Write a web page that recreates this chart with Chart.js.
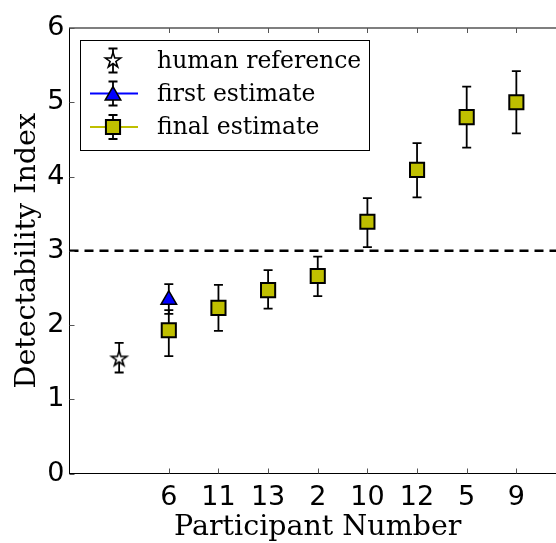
<!DOCTYPE html>
<html>
<head>
<meta charset="utf-8">
<script src="https://cdn.jsdelivr.net/npm/chart.js@4.4.0/dist/chart.umd.min.js"></script>
<style>
html,body{margin:0;padding:0;background:#fff;overflow:hidden;}
#wrap{width:566px;height:543px;}
</style>
</head>
<body>
<div id="wrap"><canvas id="chart" width="566" height="543"></canvas></div>
<script>
'use strict';
// participants shown on the x axis (positions 2..9), human reference sits at 1
const participants=['6','11','13','2','10','12','5','9'];
const finalEst=[1.93,2.23,2.47,2.66,3.39,4.09,4.80,5.00];
const finalLow=[1.58,1.92,2.22,2.39,3.05,3.72,4.39,4.58];
const finalHigh=[2.20,2.54,2.74,2.92,3.71,4.45,5.21,5.42];
const firstEst=[2.34];
const firstLow=[2.15];
const firstHigh=[2.55];
const humanRef=[1.55];
const humanLow=[1.36];
const humanHigh=[1.76];
const threshold=3;
const yTicks=[0,1,2,3,4,5,6];
const legendLabels=['human reference','first estimate','final estimate'];

const finalX=participants.map((p,i)=>i+2);
const firstX=[2];
const humanX=[1];

const OLIVE='#bfbf00';
const BLUE='#0000ff';

// five-pointed star marker (matplotlib '*')
function makeStar(){
  const c=document.createElement('canvas');
  c.width=22;c.height=22;
  const g=c.getContext('2d');
  const cx=11,cy=11.5,R=8,r=R*0.382;
  g.beginPath();
  for(let k=0;k<10;k++){
    const a=-Math.PI/2+k*Math.PI/5;
    const rr=k%2?r:R;
    const px=cx+Math.cos(a)*rr,py=cy+Math.sin(a)*rr;
    k?g.lineTo(px,py):g.moveTo(px,py);
  }
  g.closePath();
  g.fillStyle='#fff';g.fill();
  g.lineWidth=1.6;g.strokeStyle='#000';g.stroke();
  return c;
}
const starImg=makeStar();

const errGroups=[
  {xs:humanX,low:humanLow,high:humanHigh},
  {xs:firstX,low:firstLow,high:firstHigh},
  {xs:finalX,low:finalLow,high:finalHigh}
];

const errorBars={
  id:'errorBars',
  beforeDatasetsDraw(chart){
    const {ctx,scales:{x,y}}=chart;
    ctx.save();
    ctx.strokeStyle='#000';
    ctx.lineWidth=1.8;
    errGroups.forEach(g=>g.xs.forEach((xv,i)=>{
      const px=x.getPixelForValue(xv);
      const lo=y.getPixelForValue(g.low[i]);
      const hi=y.getPixelForValue(g.high[i]);
      ctx.beginPath();
      ctx.moveTo(px,lo);ctx.lineTo(px,hi);
      ctx.moveTo(px-4.5,lo);ctx.lineTo(px+4.5,lo);
      ctx.moveTo(px-4.5,hi);ctx.lineTo(px+4.5,hi);
      ctx.stroke();
    }));
    ctx.restore();
  }
};

// axes frame with inward ticks, matplotlib classic look
const frame={
  id:'frame',
  afterDatasetsDraw(chart){
    const {ctx,chartArea:a,scales:{x,y}}=chart;
    ctx.save();
    ctx.strokeStyle='#000';
    ctx.lineWidth=1;
    ctx.strokeRect(a.left,a.top,a.right-a.left,a.bottom-a.top);
    ctx.strokeStyle='#555';
    ctx.beginPath();
    x.ticks.forEach(t=>{
      const px=Math.round(x.getPixelForValue(t.value))+0.5;
      ctx.moveTo(px,a.bottom);ctx.lineTo(px,a.bottom-5);
      ctx.moveTo(px,a.top);ctx.lineTo(px,a.top+5);
    });
    y.ticks.forEach(t=>{
      const py=Math.round(y.getPixelForValue(t.value))+0.5;
      ctx.moveTo(a.left,py);ctx.lineTo(a.left+5,py);
      ctx.moveTo(a.right,py);ctx.lineTo(a.right-5,py);
    });
    ctx.stroke();
    ctx.restore();
  }
};

const legendBox={
  id:'legendBox',
  afterDraw(chart){
    const ctx=chart.ctx;
    const bx=80.5,by=40.5,bw=289,bh=110;
    const mx=113,rows=[60.5,93.5,127];
    ctx.save();
    ctx.fillStyle='#fff';
    ctx.fillRect(bx,by,bw,bh);
    ctx.strokeStyle='#000';
    ctx.lineWidth=1;
    ctx.strokeRect(bx,by,bw,bh);
    // line segments
    [[BLUE,rows[1]],[OLIVE,rows[2]]].forEach(([col,ry])=>{
      ctx.strokeStyle=col;ctx.lineWidth=2;
      ctx.beginPath();ctx.moveTo(90,ry);ctx.lineTo(138,ry);ctx.stroke();
    });
    // error bars
    ctx.strokeStyle='#000';ctx.lineWidth=1.8;
    rows.forEach(ry=>{
      ctx.beginPath();
      ctx.moveTo(mx,ry-12);ctx.lineTo(mx,ry+12);
      ctx.moveTo(mx-4.5,ry-12);ctx.lineTo(mx+4.5,ry-12);
      ctx.moveTo(mx-4.5,ry+12);ctx.lineTo(mx+4.5,ry+12);
      ctx.stroke();
    });
    // markers
    ctx.drawImage(starImg,mx-11,rows[0]-11.5);
    ctx.fillStyle=BLUE;ctx.strokeStyle='#000';ctx.lineWidth=1.5;
    Chart.helpers.drawPoint(ctx,{pointStyle:'triangle',radius:9,rotation:0,borderWidth:1.5},mx,rows[1]+2);
    ctx.fillStyle=OLIVE;ctx.lineWidth=2;
    Chart.helpers.drawPoint(ctx,{pointStyle:'rect',radius:10,rotation:0,borderWidth:2},mx,rows[2]);
    // labels
    ctx.fillStyle='#000';
    ctx.font='23.5px "DejaVu Serif"';
    ctx.textBaseline='middle';
    ctx.textAlign='left';
    legendLabels.forEach((t,i)=>ctx.fillText(t,157,rows[i]+1));
    ctx.restore();
  }
};

new Chart(document.getElementById('chart'),{
  type:'scatter',
  data:{datasets:[
    {label:legendLabels[2],data:finalX.map((xv,i)=>({x:xv,y:finalEst[i]})),pointStyle:'rect',pointRadius:10,
      backgroundColor:OLIVE,borderColor:'#000',borderWidth:2,order:0},
    {label:legendLabels[1],data:firstX.map((xv,i)=>({x:xv,y:firstEst[i]})),pointStyle:'triangle',pointRadius:9,
      backgroundColor:BLUE,borderColor:'#000',borderWidth:1.5,order:1},
    {label:legendLabels[0],data:humanX.map((xv,i)=>({x:xv,y:humanRef[i]})),pointStyle:starImg,pointRadius:8,
      backgroundColor:'#fff',borderColor:'#000',borderWidth:1,order:2},
    {type:'line',label:'threshold',data:[{x:0,y:threshold},{x:10,y:threshold}],borderColor:'#000',borderWidth:2.6,
      borderDash:[9,6],pointRadius:0,fill:false,order:10}
  ]},
  options:{
    responsive:false,
    devicePixelRatio:1,
    animation:false,
    layout:{autoPadding:false,padding:{top:28,right:0,left:0,bottom:0}},
    plugins:{legend:{display:false},tooltip:{enabled:false}},
    scales:{
      x:{
        type:'linear',min:0,max:10,
        afterBuildTicks:s=>{s.ticks=finalX.map(v=>({value:v}));},
        afterFit:s=>{s.height=69.5;},
        grid:{display:false,drawTicks:false},
        border:{display:false},
        ticks:{color:'#000',font:{family:'DejaVu Sans',size:27},padding:8,maxRotation:0,autoSkip:false,
          callback:v=>participants[v-2]},
        title:{display:true,text:'Participant Number',color:'#000',font:{family:'DejaVu Serif',size:28.5,lineHeight:1},padding:{bottom:1.5}}
      },
      y:{
        type:'linear',min:0,max:6,
        afterBuildTicks:s=>{s.ticks=yTicks.map(v=>({value:v}));},
        afterFit:s=>{s.width=69.5;},
        grid:{display:false,drawTicks:false},
        border:{display:false},
        ticks:{color:'#000',font:{family:'DejaVu Sans',size:27},padding:5},
        title:{display:true,text:'Detectability Index',color:'#000',font:{family:'DejaVu Serif',size:28.5,lineHeight:1},padding:{top:13}}
      }
    }
  },
  plugins:[errorBars,frame,legendBox]
});
</script>
</body>
</html>
